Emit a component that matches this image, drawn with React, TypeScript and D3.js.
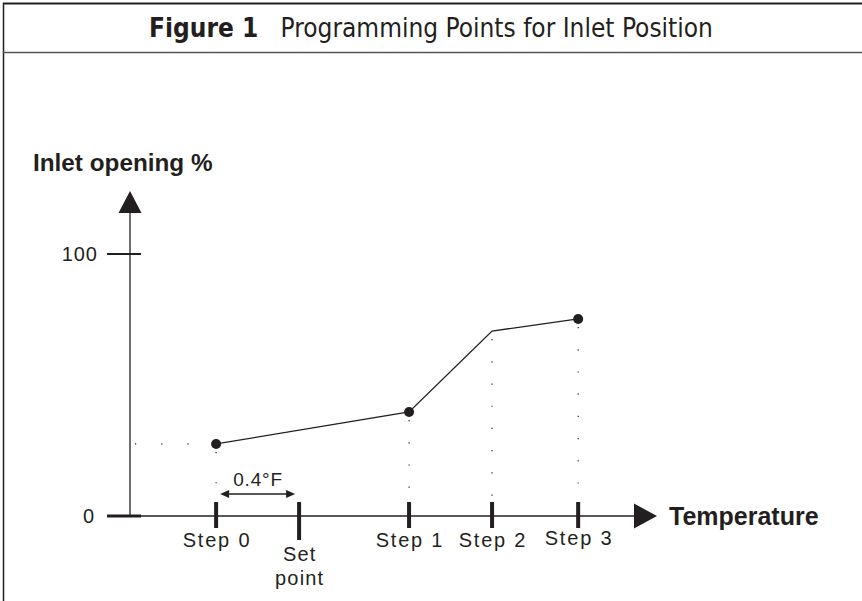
import React from "react";
import * as d3 from "d3";

// ---- data ----
const stepLabels = ["Step 0", "Set point", "Step 1", "Step 2", "Step 3"];
const stepTemps = [-0.4, 0, 0.53, 0.93, 1.345]; // °F relative to set point
const curveTemps = [-0.4, 0.53, 0.93, 1.345];
const curveOpening = [27.5, 39.7, 70.6, 75.2];
const curveDots = [true, true, false, true];
const yTicks = [0, 100];

const W = 862;
const H = 601;
const INK = "#231f20";
const NARROW = "'Liberation Sans Narrow', 'Arial Narrow', 'DejaVu Sans Condensed', sans-serif";
const SANS = "'Liberation Sans', Arial, Helvetica, sans-serif";

export default function App() {
  const x = d3.scaleLinear().domain([-0.815, 1.725]).range([130, 657]);
  const y = d3.scaleLinear().domain([0, 100]).range([516, 254]);
  const x0 = x(-0.815);
  const y0 = y(0);
  const xEnd = x(1.725);
  const yTop = y(124);
  const line = d3
    .line<number>()
    .x((_, i) => x(curveTemps[i]))
    .y((d) => y(d));

  const arrowX = `M${xEnd},${y0} L${xEnd - 23},${y0 - 12.5} L${xEnd - 23},${y0 + 12.5} Z`;
  const arrowY = `M${x0},${yTop} L${x0 - 11.5},${yTop + 22} L${x0 + 11.5},${yTop + 22} Z`;

  const ax = x(-0.4) + 4;
  const bx = x(0) - 4;
  const ay = 494;

  return (
    <svg
      width={W}
      height={H}
      style={{ position: "absolute", left: 0, top: 0, background: "#fff" }}
    >
      {/* frame */}
      <line x1={3.5} y1={3} x2={3.5} y2={H} stroke={INK} strokeWidth={1.5} />
      <line x1={3} y1={3.5} x2={W} y2={3.5} stroke={INK} strokeWidth={2} />
      <line x1={3} y1={52.5} x2={W} y2={52.5} stroke="#555" strokeWidth={1.5} />
      <text
        x={W / 2}
        y={37}
        textAnchor="middle"
        fontFamily={NARROW}
        fontSize={26}
        fill={INK}
        xmlSpace="preserve"
      >
        <tspan fontWeight="bold">Figure 1</tspan>
        <tspan>{"   Programming Points for Inlet Position"}</tspan>
      </text>

      {/* y axis */}
      <text x={33} y={171} fontFamily={SANS} fontWeight="bold" fontSize={24.3} fill={INK}>
        Inlet opening %
      </text>
      <line x1={x0} y1={y0} x2={x0} y2={yTop + 20} stroke={INK} strokeWidth={1.3} />
      <path d={arrowY} fill={INK} />
      {yTicks.map((t) => (
        <g key={t}>
          <line
            x1={107}
            x2={141}
            y1={y(t)}
            y2={y(t)}
            stroke={INK}
            strokeWidth={t === 0 ? 3 : 2}
          />
          <text
            x={t === 0 ? 95 : 98}
            y={y(t) + 7}
            textAnchor="end"
            fontFamily={SANS}
            fontSize={20}
            letterSpacing={1}
            fill={INK}
          >
            {t}
          </text>
        </g>
      ))}

      {/* x axis */}
      <line x1={107} y1={y0} x2={xEnd - 20} y2={y0} stroke={INK} strokeWidth={1.3} />
      <path d={arrowX} fill={INK} />
      <text x={669} y={525} fontFamily={SANS} fontWeight="bold" fontSize={25} fill={INK}>
        Temperature
      </text>

      {/* guide dots */}
      <line
        x1={x0 + 5}
        x2={x(-0.4) - 4}
        y1={y(curveOpening[0])}
        y2={y(curveOpening[0])}
        stroke={INK}
        strokeWidth={1.2}
        strokeDasharray="1.2 25"
      />
      {curveTemps.map((t, i) => (
        <line
          key={i}
          x1={x(t)}
          x2={x(t)}
          y1={y(curveOpening[i]) + 8}
          y2={500}
          stroke={INK}
          strokeWidth={1.2}
          strokeDasharray={i === 0 ? "1.2 29" : "1.2 21"}
        />
      ))}

      {/* step ticks */}
      {stepTemps.map((t, i) => {
        const isSet = stepLabels[i] === "Set point";
        return (
          <g key={i}>
            <rect x={x(t) - 2} y={502} width={4} height={isSet ? 38 : 26} fill={INK} />
            {isSet ? (
              <text
                textAnchor="middle"
                fontFamily={SANS}
                fontSize={20}
                letterSpacing={1.2}
                fill={INK}
              >
                <tspan x={x(t) + 0.6} y={561}>Set</tspan>
                <tspan x={x(t) + 0.6} y={585}>point</tspan>
              </text>
            ) : (
              <text
                x={x(t) + 0.9}
                y={i === 4 ? 545 : 547}
                textAnchor="middle"
                fontFamily={SANS}
                fontSize={20}
                letterSpacing={1.8}
                fill={INK}
              >
                {stepLabels[i]}
              </text>
            )}
          </g>
        );
      })}

      {/* 0.4°F dimension */}
      <line x1={ax + 6} x2={bx - 6} y1={ay} y2={ay} stroke={INK} strokeWidth={1.3} />
      <path d={`M${ax},${ay} L${ax + 9},${ay - 4} L${ax + 9},${ay + 4} Z`} fill={INK} />
      <path d={`M${bx},${ay} L${bx - 9},${ay - 4} L${bx - 9},${ay + 4} Z`} fill={INK} />
      <text
        x={(ax + bx) / 2 + 0.4}
        y={486}
        textAnchor="middle"
        fontFamily={SANS}
        fontSize={19}
        letterSpacing={0.8}
        fill={INK}
      >
        0.4°F
      </text>

      {/* curve */}
      <path d={line(curveOpening) || ""} fill="none" stroke={INK} strokeWidth={1.3} />
      {curveTemps.map((t, i) =>
        curveDots[i] ? (
          <circle key={i} cx={x(t)} cy={y(curveOpening[i])} r={5} fill={INK} />
        ) : null
      )}
    </svg>
  );
}
